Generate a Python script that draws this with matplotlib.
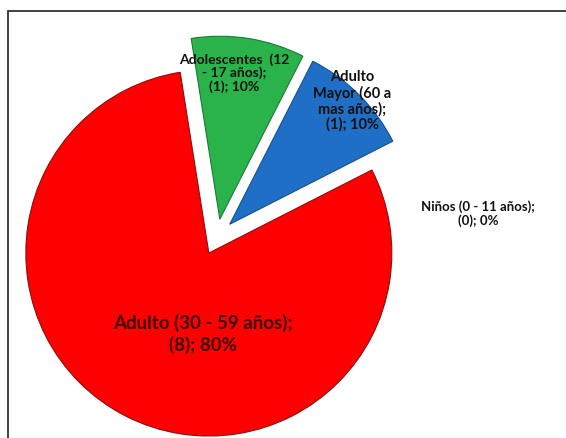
import matplotlib
matplotlib.use("Agg")
import matplotlib.pyplot as plt
from matplotlib.patches import Rectangle

categories = ["Niños (0 - 11 años)", "Adolescentes  (12 - 17 años)", "Adulto (30 - 59 años)", "Adulto Mayor (60 a mas años)"]
counts = [0, 1, 8, 1]
percents = [0, 10, 80, 10]
colors = ["#7F7F7F", "#2AB24B", "#FF0000", "#1F6FC6"]

W, H = 566, 439
fig = plt.figure(figsize=(W / 100, H / 100), dpi=100)
ax = fig.add_axes([0, 0, 1, 1])

cx, cy, r = 217, H - 238, 183
expl = 18  # offset in pixels (data units)
wedges, _ = ax.pie(counts, colors=colors, startangle=63, counterclock=True,
                   explode=[expl] * len(counts), radius=r, center=(cx, cy),
                   wedgeprops=dict(edgecolor="#8a1010", linewidth=0.8))
wedges[0].set_visible(False)
wedges[1].set_edgecolor("#1d7a35")
wedges[3].set_edgecolor("#17508f")
ax.set_xlim(0, W)
ax.set_ylim(0, H)
ax.set_aspect("equal")
ax.axis("off")

ax.add_patch(Rectangle((8, -20), W + 40, H - 12 + 20, fill=False,
                       edgecolor="#333333", linewidth=1.3, clip_on=True))

font = "Lato"
ax.text(234, H - 73, "Adolescentes  (12\n- 17 años);\n(1); 10%", ha="center", va="center",
        fontsize=10, fontweight="bold", family=font, color="#111111", linespacing=1.1)
ax.text(352, H - 101, "Adulto\nMayor (60 a\nmas años);\n(1); 10%", ha="center", va="center",
        fontsize=10.5, fontweight="bold", family=font, color="#111111", linespacing=1.1)
ax.text(478, H - 214, "Niños (0 - 11 años);\n(0); 0%", ha="center", va="center",
        fontsize=9.5, fontweight="bold", family=font, color="#111111", linespacing=1.15)
ax.text(203, H - 334, "Adulto (30 - 59 años);\n(8); 80%", ha="center", va="center",
        fontsize=13.5, fontweight="bold", family=font, color="#3a0000", linespacing=1.2)

fig.savefig("out.png", dpi=100)
